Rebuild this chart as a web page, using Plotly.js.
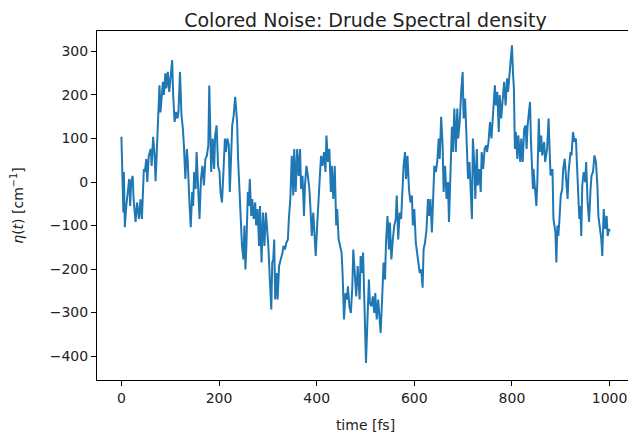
<!DOCTYPE html>
<html>
<head>
<meta charset="utf-8">
<script src="https://cdn.plot.ly/plotly-3.0.1.min.js"></script>
<style>
html,body{margin:0;padding:0;overflow:hidden;background:#fff;}
#chart{width:640px;height:434px;}
</style>
</head>
<body>
<div id="chart"></div>
<script>
const chartTitle = "Colored Noise: Drude Spectral density";
const xLabel = "time [fs]";
const yLabel = "<i>η</i>(<i>t</i>) [cm<sup>−1</sup>]";
const xTicks = [0, 200, 400, 600, 800, 1000];
const yTicks = [-400, -300, -200, -100, 0, 100, 200, 300];

const timeFs = [
0,2,4,5,7,10,12,16,18,20,23,25,29,32,36,39,42,46,48,51,53,56,60,62,65,68,70,73,76,78,
80,82,85,87,90,92,95,98,100,104,106,109,112,115,117,120,123,126,128,131,134,136,139,142,145,147,149,152,154,157,
160,163,166,169,172,175,178,180,182,184,187,190,192,195,198,201,203,206,209,212,214,217,220,222,224,227,230,233,235,237,
239,242,245,247,250,252,254,256,259,261,263,266,268,271,274,276,279,282,284,287,290,293,296,298,301,304,307,309,311,313,
315,318,320,323,327,330,332,335,338,341,343,346,349,352,354,357,360,363,366,368,371,374,376,379,382,385,387,390,393,396,
398,401,404,407,409,412,415,418,420,423,426,429,431,434,437,440,442,445,448,451,453,456,459,462,464,467,470,473,475,478,
481,484,486,488,490,493,495,498,501,504,507,509,512,515,518,520,523,526,529,531,534,537,540,542,545,548,550,553,556,559,
562,564,567,570,573,575,578,581,583,586,589,592,595,597,600,603,606,608,611,614,617,619,622,625,628,630,633,636,639,641,
644,647,650,652,655,658,660,663,666,669,671,674,677,679,682,685,688,690,693,696,699,701,704,707,710,713,716,718,720,723,
725,728,730,733,736,738,741,744,747,749,752,755,758,760,763,765,767,770,773,775,778,781,784,787,790,792,795,797,800,802,
804,806,808,811,813,817,819,822,825,828,830,832,837,839,841,843,844,847,850,852,855,857,860,862,866,868,872,875,877,879,
883,885,889,891,893,895,897,900,903,905,908,911,914,916,920,922,925,928,931,933,936,938,940,942,944,947,950,952,955,958,
961,963,966,969,972,975,977,980,983,985,988,991,994,996,999,1000
];

const eta = [
104,0,-70,23,-104,-55,-32,7,-55,0,14,-39,-92,-47,-85,-40,-85,30,23,53,0,60,76,37,104,60,2,76,152,222,
160,192,230,200,250,215,253,207,237,280,200,138,161,146,163,253,154,122,84,7,76,46,-39,-104,-23,-55,23,-16,69,-8,
-85,7,37,-8,53,60,84,222,84,23,100,30,107,130,37,23,-23,-47,23,100,69,100,84,-23,37,130,153,196,168,138,
53,-16,-92,-147,-178,-100,-201,-147,-23,-55,7,-78,-39,-85,-47,-100,-62,-147,-55,-185,-70,-147,-70,-100,-147,-224,-293,-185,-178,-132,
-270,-209,-270,-193,-178,-162,-147,-155,-139,-132,-85,-39,60,-31,76,-23,76,14,76,-16,14,-78,-8,37,14,-16,-55,-124,-70,-147,
-170,-100,-23,23,60,37,69,23,107,46,76,-23,37,-39,37,-100,-62,-132,-147,-162,-209,-316,-255,-270,-240,-286,-301,-240,-155,-220,
-263,-193,-240,-270,-170,-209,-162,-270,-416,-316,-224,-278,-286,-263,-301,-255,-316,-270,-309,-347,-270,-185,-224,-139,-78,-155,-93,-178,-132,-100,
-85,-31,-132,-70,-85,-16,37,69,7,60,-16,-47,-31,-100,-62,-139,-170,-193,-209,-201,-243,-155,-139,-108,-39,-78,-39,-116,-16,37,
23,46,100,53,150,84,-23,37,-39,0,-92,23,127,69,169,69,169,100,138,207,253,146,192,100,7,46,-16,-85,100,37,
-39,76,-8,30,-23,69,30,76,84,69,92,138,100,130,176,222,176,207,115,200,146,184,230,176,238,207,253,268,314,253,
215,76,115,53,107,46,100,46,122,130,76,130,184,92,46,-16,30,-8,-55,0,146,69,107,61,92,46,76,146,53,15,
30,-85,-116,-185,-100,-124,-92,-31,-16,30,53,0,-39,23,69,61,115,92,100,46,-16,-85,-55,-124,-8,23,0,46,-47,-92,
-16,15,23,61,46,-8,-78,-108,-131,-170,-62,-108,-78,-124,-108,-113
];

const trace = {
  x: timeFs,
  y: eta,
  type: "scatter",
  mode: "lines",
  line: {color: "#1f77b4", width: 2},
  hoverinfo: "skip"
};

const axisCommon = {
  showgrid: false,
  zeroline: false,
  showline: true,
  linecolor: "#000",
  linewidth: 1,
  mirror: true,
  ticks: "outside",
  ticklen: 5,
  tickwidth: 1,
  tickcolor: "#000",
  tickfont: {family: "DejaVu Sans", size: 14, color: "#222"}
};

const layout = {
  width: 640,
  height: 434,
  margin: {l: 97, r: 6, t: 31, b: 54},
  paper_bgcolor: "#fff",
  plot_bgcolor: "#fff",
  showlegend: false,
  font: {family: "DejaVu Sans", color: "#222"},
  title: {
    text: chartTitle,
    font: {family: "DejaVu Sans", size: 19, color: "#222"},
    x: 0.5, xref: "paper", xanchor: "center",
    y: 1, yref: "paper", yanchor: "bottom",
    pad: {b: 4}
  },
  xaxis: Object.assign({}, axisCommon, {
    range: [-50, 1050],
    tickvals: xTicks,
    ticktext: xTicks.map(String),
    title: {text: xLabel, font: {family: "DejaVu Sans", size: 14, color: "#222"}, standoff: 15}
  }),
  yaxis: Object.assign({}, axisCommon, {
    range: [-455, 347],
    tickvals: yTicks,
    title: {text: yLabel, font: {family: "DejaVu Sans", size: 14, color: "#222"}, standoff: 22}
  })
};

Plotly.newPlot("chart", [trace], layout, {staticPlot: true, displayModeBar: false});
</script>
</body>
</html>
